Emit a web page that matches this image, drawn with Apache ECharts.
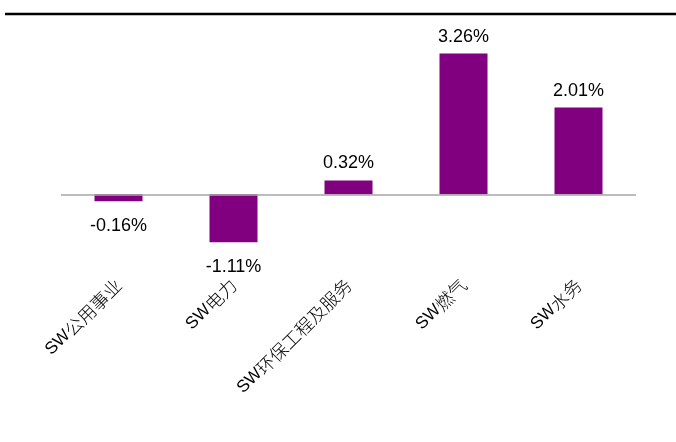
<!DOCTYPE html>
<html>
<head>
<meta charset="utf-8">
<script src="https://cdn.jsdelivr.net/npm/echarts@6/dist/echarts.min.js"></script>
<style>html,body{margin:0;padding:0;background:#fff;}#c{width:676px;height:442px;}</style>
</head>
<body>
<div id="c"></div>
<script>
const categories = ['SW公用事业', 'SW电力', 'SW环保工程及服务', 'SW燃气', 'SW水务'];
const values = [-0.16, -1.11, 0.32, 3.26, 2.01];

const chart = echarts.init(document.getElementById('c'));
chart.setOption({
  animation: false,
  backgroundColor: '#fff',
  grid: { left: 61, right: 40, top: 13, bottom: 170 },
  graphic: [{
    type: 'line', shape: { x1: 5, y1: 14, x2: 676, y2: 14 },
    style: { stroke: '#000', lineWidth: 2.5 }
  }],
  xAxis: {
    type: 'category', data: categories,
    axisLine: { show: false }, axisTick: { show: false },
    axisLabel: {
      rotate: 45, margin: 10, interval: 0, color: '#000',
      formatter: v => '{a|' + v.slice(0, 2) + '}{b|' + v.slice(2) + '}',
      rich: {
        a: { fontFamily: 'Liberation Sans, Arial, sans-serif', fontSize: 17, color: '#000' },
        b: { fontFamily: 'Noto Sans CJK SC, sans-serif', fontSize: 18, fontWeight: 300, color: '#000' }
      }
    }
  },
  yAxis: {
    type: 'value', min: -1.8, max: 4.2,
    axisLine: { show: false }, axisTick: { show: false },
    axisLabel: { show: false }, splitLine: { show: false }
  },
  series: [{
    type: 'bar', barWidth: 48,
    itemStyle: { color: '#800080' },
    data: values.map(v => ({
      value: v,
      label: { position: v < 0 ? 'bottom' : 'top', distance: v < 0 ? 16 : 8 }
    })),
    label: {
      show: true,
      fontFamily: 'Liberation Sans, Arial, sans-serif', fontSize: 18, color: '#000',
      formatter: p => p.value.toFixed(2) + '%'
    },
    markLine: {
      silent: true, symbol: 'none', label: { show: false },
      lineStyle: { color: '#a6a6a6', width: 1.5, type: 'solid' },
      data: [{ yAxis: 0 }]
    }
  }]
});
</script>
</body>
</html>
